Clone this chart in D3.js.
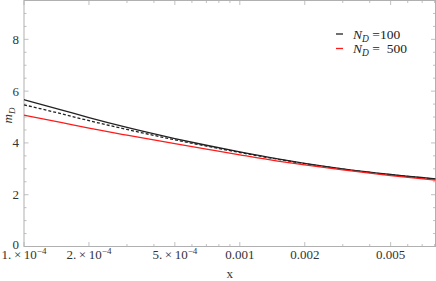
<!DOCTYPE html>
<html>
<head>
<meta charset="utf-8">
<script src="https://cdn.jsdelivr.net/npm/d3@7"></script>
<style>
  body { margin: 0; background: #fff; }
  svg text { font-family: 'Liberation Serif', 'Times New Roman', 'DejaVu Serif', serif; }
</style>
</head>
<body>
<div id="graphic"></div>
<script>
// data
const xs = [1e-4, 1.5e-4, 2e-4, 3e-4, 5e-4, 7e-4, 1e-3, 1.5e-3, 2e-3, 3e-3, 5e-3, 8.07e-3];
const mD100 = [5.67, 5.27, 4.98, 4.60, 4.17, 3.91, 3.65, 3.38, 3.21, 3.00, 2.78, 2.61];
const mD500 = [5.07, 4.78, 4.57, 4.30, 3.97, 3.76, 3.54, 3.30, 3.15, 2.96, 2.74, 2.56];
const mDdash = [5.47, 5.12, 4.86, 4.52, 4.12, 3.88, 3.63, 3.37, 3.20, 2.99, 2.77, 2.60];

const xMajor = [1e-4, 2e-4, 5e-4, 1e-3, 2e-3, 5e-3];
const xMajorLabels = ["1.", "2.", "5.", "0.001", "0.002", "0.005"];
const yMajor = [0, 2, 4, 6, 8];

const width = 436, height = 281;
const margin = { top: 0.5, right: 0.5, bottom: 34.5, left: 24 };
const w = width - margin.left - margin.right;
const h = height - margin.top - margin.bottom;

const svg = d3.select('#graphic').append('svg')
  .attr('width', width).attr('height', height)
  .attr('font-family', "'Liberation Serif', 'Times New Roman', serif");
const g = svg.append('g').attr('transform', `translate(${margin.left},${margin.top})`);

const x = d3.scaleLog().domain([1e-4, 8.07e-3]).range([0, w]);
const y = d3.scaleLinear().domain([0, 9.5]).range([h, 0]);

// minor ticks
let xMinor = [];
for (let e = -4; e <= -3; e++) for (let k = 2; k <= 9; k++) {
  const v = k * Math.pow(10, e);
  if (!xMajor.some(m => Math.abs(m - v) < 1e-12)) xMinor.push(v);
}
const yMinor = d3.range(0, 9.51, 0.5).filter(v => v % 2 !== 0);

const tickCol = '#b0b0b0';
const ticks = g.append('g').attr('stroke', tickCol).attr('stroke-width', 0.8);
function xt(vals, len) {
  vals.forEach(v => {
    ticks.append('line').attr('x1', x(v)).attr('x2', x(v)).attr('y1', h).attr('y2', h - len);
    ticks.append('line').attr('x1', x(v)).attr('x2', x(v)).attr('y1', 0).attr('y2', len);
  });
}
function yt(vals, len) {
  vals.forEach(v => {
    ticks.append('line').attr('y1', y(v)).attr('y2', y(v)).attr('x1', 0).attr('x2', len);
    ticks.append('line').attr('y1', y(v)).attr('y2', y(v)).attr('x1', w).attr('x2', w - len);
  });
}
xt(xMajor, 4.5); xt(xMinor, 2.5);
yt(yMajor, 4.5); yt(yMinor, 2.5);

g.append('rect').attr('x', 0).attr('y', 0).attr('width', w).attr('height', h)
  .attr('fill', 'none').attr('stroke', tickCol).attr('stroke-width', 1);

// tick labels
g.append('g').selectAll('text').data(yMajor).join('text')
  .attr('x', -5).attr('y', d => y(d) - (d === 0 ? 2.5 : 0)).attr('dy', '0.35em')
  .attr('text-anchor', 'end').attr('fill', '#333').attr('font-size', 13)
  .text(d => d);

const fo = g.append('g');
xMajor.forEach((v, i) => {
  const t = fo.append('text').attr('x', x(v)).attr('y', h + 12.5)
    .attr('text-anchor', 'middle').attr('fill', '#333').attr('font-size', 13);
  if (i < 3) {
    t.append('tspan').text(xMajorLabels[i] + '\u2009×\u200910');
    t.append('tspan').attr('dy', -5).attr('font-size', 9).text('−4');
  } else {
    t.text(xMajorLabels[i]);
  }
});

// axis labels
g.append('text').attr('x', w / 2).attr('y', h + 31)
  .attr('text-anchor', 'middle').attr('fill', '#333').attr('font-size', 13).text('x');
const yl = g.append('text').attr('transform', `translate(${-12},${h / 2 - 8}) rotate(-90)`)
  .attr('text-anchor', 'middle').attr('fill', '#333').attr('font-size', 13);
yl.append('tspan').attr('font-style', 'italic').text('m');
yl.append('tspan').attr('font-style', 'italic').attr('font-size', 9).attr('dy', 3).text('D');

// curves
const line = d3.line().x(d => x(d[0])).y(d => y(d[1])).curve(d3.curveMonotoneX);
const series = [
  { vals: mD100, color: '#222', dash: null },
  { vals: mDdash, color: '#222', dash: '3,2' },
  { vals: mD500, color: '#ff1a1a', dash: null }
];
series.forEach(s => {
  g.append('path').datum(xs.map((v, i) => [v, s.vals[i]]))
    .attr('d', line).attr('fill', 'none').attr('stroke', s.color)
    .attr('stroke-width', 1.3).attr('stroke-dasharray', s.dash);
});

// legend
const legend = svg.append('g');
[{ label: '=100', color: '#222', y: 34 }, { label: '=\u00a0 500', color: '#ff1a1a', y: 48.5 }].forEach(d => {
  legend.append('line').attr('x1', 336).attr('x2', 343).attr('y1', d.y).attr('y2', d.y)
    .attr('stroke', d.color).attr('stroke-width', 1.3);
  const t = legend.append('text').attr('x', 353).attr('y', d.y + 4.5).attr('font-size', 13.5).attr('fill', '#222');
  t.append('tspan').attr('font-style', 'italic').text('N');
  t.append('tspan').attr('font-style', 'italic').attr('font-size', 9.5).attr('dy', 3).text('D');
  t.append('tspan').attr('dy', -3).text('\u00a0' + d.label);
});
</script>
</body>
</html>
